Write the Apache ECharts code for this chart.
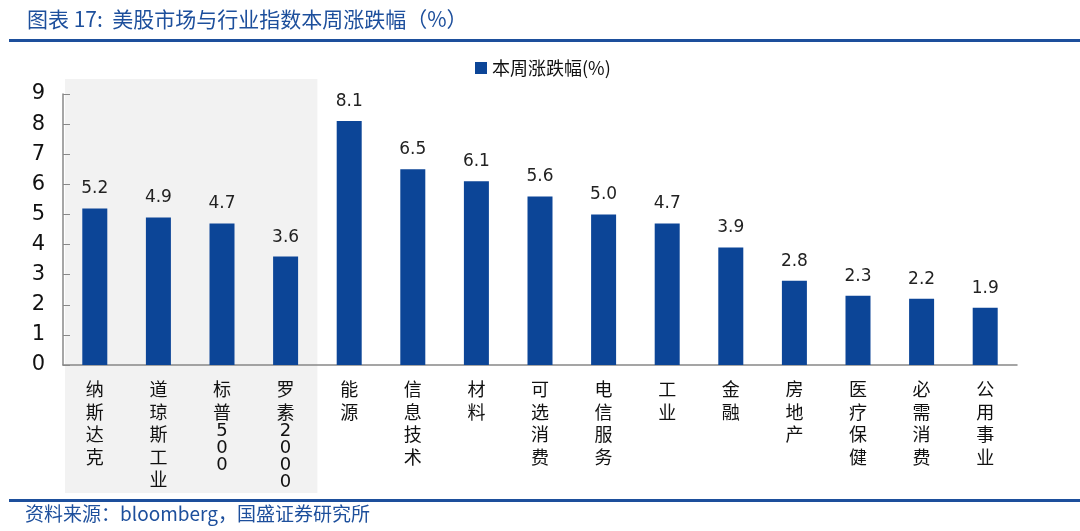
<!DOCTYPE html>
<html><head><meta charset="utf-8">
<script src="https://cdn.jsdelivr.net/npm/echarts@6/dist/echarts.min.js"></script>
<style>html,body{margin:0;padding:0;background:#fff}#c{width:1080px;height:531px}</style>
</head><body><div id="c"></div>
<script>
const categories = ['纳斯达克','道琼斯工业','标普500','罗素2000','能源','信息技术','材料','可选消费','电信服务','工业','金融','房地产','医疗保健','必需消费','公用事业'];
const values = [5.2,4.9,4.7,3.6,8.1,6.5,6.1,5.6,5.0,4.7,3.9,2.8,2.3,2.2,1.9];
const seriesName = '本周涨跌幅(%)';
const titleText = '图表 17:  美股市场与行业指数本周涨跌幅（%）';
const sourceText = '资料来源：bloomberg，国盛证券研究所';
const shadedCount = 4;

const cjk = '"Noto Sans CJK SC", "DejaVu Sans", sans-serif';
const chart = echarts.init(document.getElementById('c'));
function fmtCat(s){
  const out = [];
  for (const ch of s){
    if (/[0-9]/.test(ch)) out.push('{d|' + ch + '}');
    else out.push('{c|' + ch + '}');
  }
  return out.join('\n');
}
chart.setOption({
  animation:false,
  backgroundColor:'#fff',
  title:{text:titleText,left:22,top:4,textStyle:{color:'#1d4f9c',fontSize:21,fontWeight:'normal',fontFamily:cjk}},
  legend:{data:[seriesName],left:470,top:54,itemWidth:12,itemHeight:12,itemGap:6,icon:'rect',
    textStyle:{fontSize:18,color:'#111',fontFamily:cjk}},
  grid:{left:63,right:63,top:94,bottom:166},
  xAxis:{type:'category',data:categories,
    axisLine:{lineStyle:{color:'#888',width:1.5}},
    axisTick:{inside:true,length:7,lineStyle:{color:'#888'}},
    axisLabel:{interval:0,margin:13,formatter:fmtCat,verticalAlign:'top',
      rich:{c:{fontSize:18,lineHeight:22.5,color:'#111',fontFamily:cjk},
            d:{fontSize:18,lineHeight:17,color:'#111',fontFamily:'"DejaVu Sans", sans-serif'}}}},
  yAxis:{type:'value',min:0,max:9,interval:1,
    axisLine:{show:true,lineStyle:{color:'#888',width:1.5}},
    axisTick:{show:true,inside:true,length:7,lineStyle:{color:'#888'}},
    splitLine:{show:false},
    axisLabel:{fontSize:21,color:'#111',margin:18,fontFamily:'"DejaVu Sans", sans-serif'}},
  series:[{name:seriesName,type:'bar',data:values,barWidth:25,z:3,
    itemStyle:{color:'#0c4597'},
    label:{show:true,position:'top',distance:11,fontSize:17,color:'#222',
      fontFamily:'"DejaVu Sans", sans-serif',formatter:p=>p.value.toFixed(1)}}]
});
const c0 = chart.convertToPixel({xAxisIndex:0},0);
const c1 = chart.convertToPixel({xAxisIndex:0},1);
const bw = c1 - c0;
const xl = c0 - bw/2 + 2;
const xr = c0 + bw*(shadedCount-0.5);
chart.setOption({graphic:[
  {type:'rect',z:-10,shape:{x:xl,y:79,width:xr-xl,height:414},style:{fill:'#f2f2f2'}},
  {type:'rect',z:10,shape:{x:9,y:39,width:1071,height:3},style:{fill:'#1d4f9c'}},
  {type:'rect',z:10,shape:{x:9,y:499,width:1071,height:3},style:{fill:'#1d4f9c'}},
  {type:'text',z:10,left:25,top:504,style:{text:sourceText,fill:'#1d4f9c',fontSize:19,fontFamily:cjk}}
]});
</script></body></html>
